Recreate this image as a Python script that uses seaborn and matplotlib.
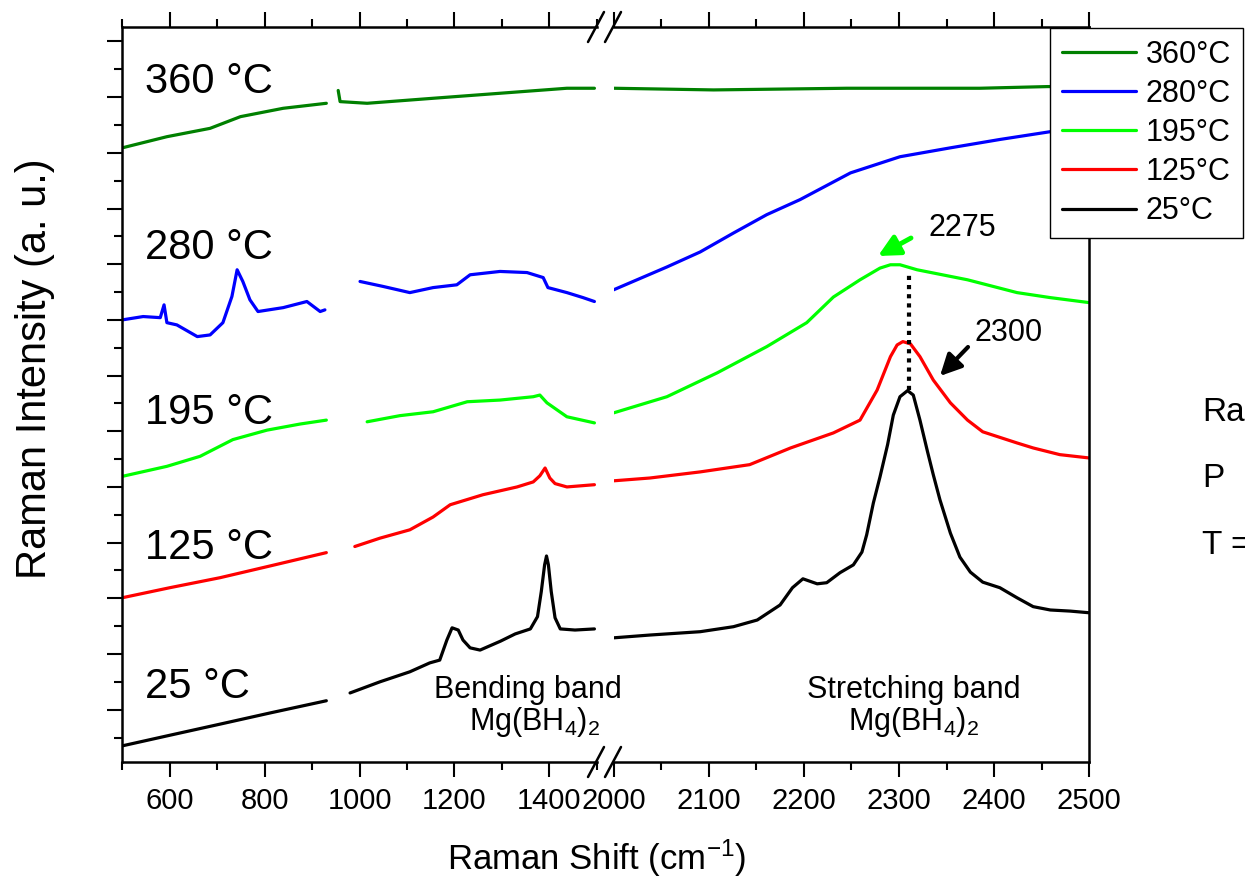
import pandas as pd
import seaborn as sns
import matplotlib.pyplot as plt
from matplotlib.lines import Line2D
from matplotlib.ticker import MultipleLocator, NullFormatter

# legend order, curve labels and colours
temps = ['360°C', '280°C', '195°C', '125°C', '25°C']
curve_names = ['360 °C', '280 °C', '195 °C', '125 °C', '25 °C']
colors = ['#008000', '#0000ff', '#00ff00', '#ff0000', '#000000']

# spectra: 3 pieces each (low range, bending range, stretching range)
# x = Raman shift (cm-1), y = stacked intensity (a.u.)
shift_360 = [[500, 594, 685, 749, 839, 930],
             [955, 959, 1016, 1155, 1296, 1437, 1495],
             [2000, 2105, 2245, 2385, 2456, 2500]]
int_360 = [[10.09, 10.29, 10.44, 10.65, 10.80, 10.89],
           [11.12, 10.92, 10.89, 10.98, 11.07, 11.16, 11.16],
           [11.16, 11.13, 11.16, 11.16, 11.19, 11.19]]

shift_280 = [[500, 544, 580, 588, 594, 615, 658, 685, 712, 731, 742, 754, 769, 786, 839, 889, 917, 927],
             [1001, 1050, 1106, 1155, 1205, 1233, 1296, 1353, 1387, 1397, 1437, 1471, 1495],
             [2000, 2056, 2091, 2126, 2161, 2196, 2249, 2301, 2354, 2406, 2459, 2500]]
int_280 = [[7.00, 7.06, 7.04, 7.27, 6.95, 6.91, 6.70, 6.73, 6.95, 7.42, 7.90, 7.69, 7.36, 7.15, 7.22, 7.33, 7.15, 7.18],
           [7.69, 7.60, 7.49, 7.58, 7.63, 7.81, 7.87, 7.85, 7.76, 7.58, 7.49, 7.40, 7.33],
           [7.54, 7.95, 8.22, 8.56, 8.89, 9.16, 9.64, 9.93, 10.09, 10.24, 10.38, 10.47]]

shift_195 = [[500, 594, 664, 733, 805, 875, 930],
             [1016, 1085, 1155, 1227, 1296, 1366, 1380, 1395, 1437, 1495],
             [2000, 2056, 2109, 2161, 2203, 2231, 2259, 2280, 2291, 2301, 2319, 2372, 2424, 2459, 2500]]
int_195 = [[4.19, 4.37, 4.55, 4.85, 5.02, 5.13, 5.20],
           [5.17, 5.28, 5.35, 5.53, 5.56, 5.62, 5.65, 5.51, 5.26, 5.15],
           [5.33, 5.62, 6.05, 6.52, 6.95, 7.41, 7.72, 7.93, 7.99, 7.99, 7.90, 7.72, 7.49, 7.40, 7.31]]

shift_125 = [[500, 600, 706, 811, 930],
             [990, 1043, 1106, 1155, 1191, 1260, 1332, 1366, 1380, 1391, 1401, 1412, 1437, 1495],
             [2000, 2038, 2091, 2143, 2186, 2196, 2231, 2259, 2277, 2291, 2298, 2304, 2312, 2322,
              2336, 2354, 2372, 2388, 2424, 2441, 2469, 2500]]
int_125 = [[2.01, 2.19, 2.37, 2.58, 2.82],
           [2.93, 3.08, 3.23, 3.46, 3.68, 3.86, 4.00, 4.09, 4.20, 4.34, 4.16, 4.06, 4.00, 4.04],
           [4.11, 4.16, 4.27, 4.40, 4.70, 4.76, 4.97, 5.20, 5.74, 6.34, 6.55, 6.61, 6.57, 6.34,
            5.92, 5.51, 5.20, 4.99, 4.79, 4.70, 4.58, 4.52]]

shift_25 = [[500, 600, 706, 811, 930],
            [980, 1043, 1106, 1148, 1169, 1184, 1195, 1208, 1218, 1233, 1254, 1297, 1328, 1360,
             1375, 1383, 1390, 1394, 1398, 1404, 1412, 1423, 1454, 1495],
            [2000, 2038, 2091, 2126, 2151, 2175, 2188, 2199, 2214, 2224, 2238, 2252, 2261, 2266,
             2273, 2280, 2288, 2294, 2301, 2309, 2315, 2322, 2330, 2336, 2343, 2354, 2364, 2375,
             2388, 2406, 2424, 2441, 2459, 2480, 2500]]
int_25 = [[-0.65, -0.46, -0.26, -0.06, 0.16],
          [0.30, 0.50, 0.68, 0.84, 0.89, 1.25, 1.47, 1.43, 1.25, 1.11, 1.07, 1.23, 1.36, 1.45,
           1.67, 2.12, 2.60, 2.76, 2.60, 2.12, 1.65, 1.45, 1.43, 1.45],
          [1.29, 1.34, 1.40, 1.49, 1.61, 1.88, 2.19, 2.35, 2.26, 2.28, 2.46, 2.60, 2.83, 3.14,
           3.71, 4.18, 4.76, 5.29, 5.62, 5.73, 5.65, 5.20, 4.63, 4.22, 3.77, 3.17, 2.74, 2.47,
           2.29, 2.19, 2.01, 1.85, 1.79, 1.77, 1.74]]

# dotted guide between the 195 °C and 25 °C stretching maxima
guide_x = [2310, 2310]
guide_y = [5.74, 7.86]

shifts = [shift_360, shift_280, shift_195, shift_125, shift_25]
ints = [int_360, int_280, int_195, int_125, int_25]

rows = []
for t, xs, ys in zip(temps, shifts, ints):
    for k, (xx, yy) in enumerate(zip(xs, ys)):
        for a, b in zip(xx, yy):
            rows.append((t, k, a, b))
df = pd.DataFrame(rows, columns=['temp', 'piece', 'shift', 'intensity'])

sns.set_style('ticks')
plt.rcParams['font.family'] = ['Liberation Sans', 'DejaVu Sans']
plt.rcParams['mathtext.fontset'] = 'custom'
plt.rcParams['mathtext.rm'] = 'Liberation Sans'
plt.rcParams['mathtext.it'] = 'Liberation Sans:italic'
plt.rcParams['mathtext.default'] = 'regular'
plt.rcParams['text.color'] = 'black'
plt.rcParams['xtick.color'] = 'black'
plt.rcParams['ytick.color'] = 'black'
plt.rcParams['axes.edgecolor'] = 'black'

W, H = 1245, 880


def fx(x):
    return x / W


def fy(y):
    return 1 - y / H


fig = plt.figure(figsize=(12.45, 8.8), dpi=100)
ax1 = fig.add_axes([fx(122.3), fy(762), (596.8 - 122.3) / W, 735 / H])
ax2 = fig.add_axes([fx(613.6), fy(762), (1089.3 - 613.6) / W, 735 / H], sharey=ax1)

pal = dict(zip(temps, colors))
sns.lineplot(data=df[df['shift'] < 1600], x='shift', y='intensity', hue='temp', units='piece',
             estimator=None, sort=False, palette=pal, hue_order=temps, lw=2.3, legend=False, ax=ax1)
sns.lineplot(data=df[df['shift'] >= 2000], x='shift', y='intensity', hue='temp', units='piece',
             estimator=None, sort=False, palette=pal, hue_order=temps, lw=2.3, legend=False, ax=ax2)

ax1.set_xlim(500, 1500)
ax2.set_xlim(2000, 2500)
ax1.set_ylim(-0.94, 12.26)

for ax in (ax1, ax2):
    ax.set_xlabel('')
    ax.set_ylabel('')
    ax.tick_params(which='both', direction='out', top=True, width=1.5, labelsize=21, pad=7,
                   colors='black', labelcolor='black')
    ax.tick_params(which='major', length=11)
    ax.tick_params(which='minor', length=6)
    for s in ax.spines.values():
        s.set_linewidth(1.8)
        s.set_color('black')

ax1.xaxis.set_major_locator(MultipleLocator(200))
ax1.xaxis.set_minor_locator(MultipleLocator(100))
ax2.xaxis.set_major_locator(MultipleLocator(100))
ax2.xaxis.set_minor_locator(MultipleLocator(50))
ax1.yaxis.set_major_locator(MultipleLocator(1))
ax1.yaxis.set_minor_locator(MultipleLocator(0.5))
ax1.yaxis.set_major_formatter(NullFormatter())
ax1.tick_params(axis='y', which='both', right=False, labelleft=False)
ax2.tick_params(axis='y', which='both', left=False, right=False, labelleft=False)
ax1.spines['right'].set_visible(False)
ax2.spines['left'].set_visible(False)

# axis break marks
for cx in (596, 613):
    for cy in (27, 762):
        fig.add_artist(Line2D([fx(cx - 8), fx(cx + 8)], [fy(cy + 15), fy(cy - 15)],
                              transform=fig.transFigure, color='black', lw=1.8))

# dotted guide and arrows
ax2.plot(guide_x, guide_y, color='black', lw=3, ls=(0, (1, 1.2)))
ax2.annotate('', xy=(fx(878), fy(256)), xycoords='figure fraction',
             xytext=(fx(911), fy(238)), textcoords='figure fraction',
             arrowprops=dict(arrowstyle='-|>,head_length=0.8,head_width=0.4', color='#00ff00',
                             lw=3.5, mutation_scale=16, shrinkA=0, shrinkB=0))
ax2.annotate('', xy=(fx(940), fy(376)), xycoords='figure fraction',
             xytext=(fx(968), fy(347)), textcoords='figure fraction',
             arrowprops=dict(arrowstyle='-|>,head_length=0.8,head_width=0.4', color='black',
                             lw=3, mutation_scale=16, shrinkA=0, shrinkB=0))

# texts
for name, ypx in zip(curve_names, [82, 248, 413, 548, 687]):
    fig.text(fx(145), fy(ypx), name, fontsize=30, ha='left', va='center')
fig.text(fx(528), fy(690), 'Bending band', fontsize=22, ha='center', va='center')
fig.text(fx(535), fy(722), 'Mg(BH$_4$)$_2$', fontsize=22, ha='center', va='center')
fig.text(fx(914), fy(690), 'Stretching band', fontsize=22, ha='center', va='center')
fig.text(fx(914), fy(722), 'Mg(BH$_4$)$_2$', fontsize=22, ha='center', va='center')
fig.text(fx(929), fy(228), '2275', fontsize=22, ha='left', va='center')
fig.text(fx(974), fy(333), '2300', fontsize=22, ha='left', va='center')
fig.text(fx(1202), fy(412), 'Ra', fontsize=24, ha='left', va='center')
fig.text(fx(1202), fy(478), 'P', fontsize=24, ha='left', va='center')
fig.text(fx(1202), fy(545), 'T =', fontsize=24, ha='left', va='center')

fig.text(fx(597), fy(858), 'Raman Shift (cm$^{-1}$)', fontsize=25, ha='center', va='center')
fig.text(fx(35), fy(369), 'Raman Intensity (a. u.)', fontsize=30, rotation=90,
         ha='center', va='center')

handles = [Line2D([], [], color=c, lw=2.3) for c in colors]
leg = ax2.legend(handles, temps, loc='upper left', bbox_to_anchor=(fx(1050), fy(28)),
                 bbox_transform=fig.transFigure, borderaxespad=0, frameon=True, fancybox=False,
                 edgecolor='black', framealpha=1, fontsize=22, handlelength=2.45,
                 handletextpad=0.3, labelspacing=0.3, borderpad=0.38)
leg.get_frame().set_linewidth(1.0)

fig.savefig('out.png', dpi=100)
